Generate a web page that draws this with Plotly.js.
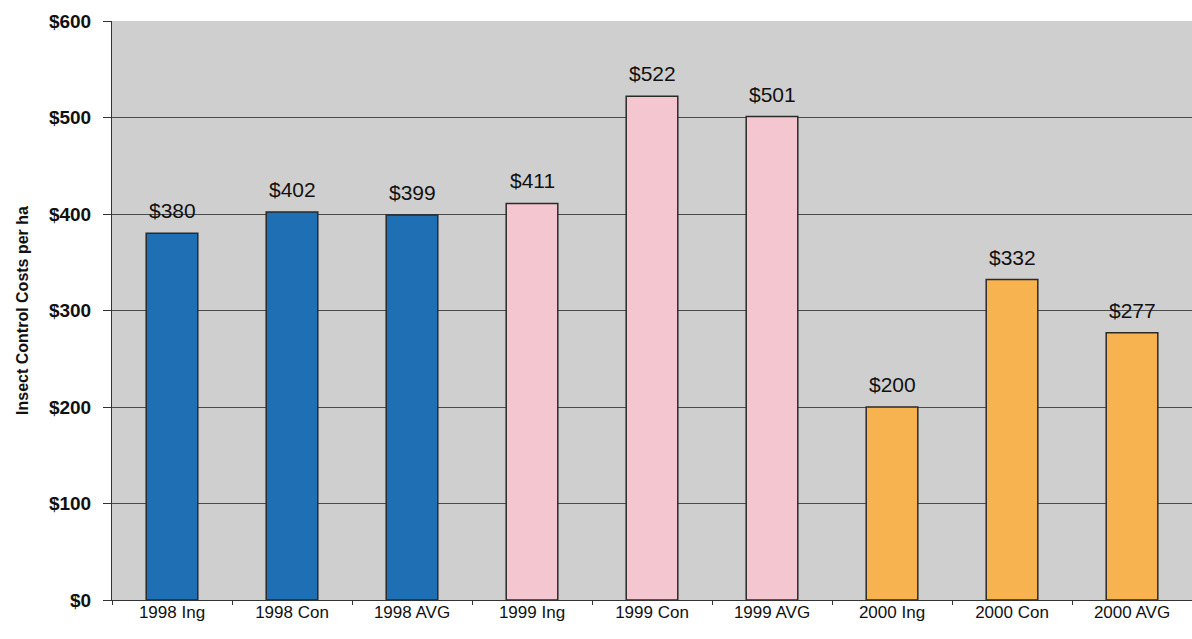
<!DOCTYPE html>
<html>
<head>
<meta charset="utf-8">
<script src="https://cdn.plot.ly/plotly-3.0.1.min.js"></script>
<style>
  html, body { margin: 0; padding: 0; background: #ffffff; }
  #chart { width: 1192px; height: 639px; }
</style>
</head>
<body>
<div id="chart"></div>
<script>
// Insect control costs per hectare, by year and program
const categories = ['1998 Ing', '1998 Con', '1998 AVG',
                    '1999 Ing', '1999 Con', '1999 AVG',
                    '2000 Ing', '2000 Con', '2000 AVG'];
const costs = [380, 402, 399, 411, 522, 501, 200, 332, 277];
const barColors = ['#1f6fb5', '#1f6fb5', '#1f6fb5',
                   '#f4c6cf', '#f4c6cf', '#f4c6cf',
                   '#f6b34f', '#f6b34f', '#f6b34f'];
const yTickVals = [0, 100, 200, 300, 400, 500, 600];
const yTickText = ['$0', '$100', '$200', '$300', '$400', '$500', '$600'];

const trace = {
  type: 'bar',
  x: categories,
  y: costs,
  width: 0.43,
  marker: {
    color: barColors,
    line: { color: '#2a2a2a', width: 1.5 }
  },
  hoverinfo: 'x+y'
};

// Value labels sitting a little above each bar
const valueLabels = categories.map((c, i) => ({
  x: c,
  y: costs[i],
  xref: 'x',
  yref: 'y',
  text: '$' + costs[i],
  showarrow: false,
  yanchor: 'bottom',
  yshift: 9,
  font: { family: 'Liberation Sans, Arial, sans-serif', size: 21, color: '#111111' }
}));

const layout = {
  width: 1192,
  height: 639,
  margin: { l: 112, r: 0, t: 21, b: 39 },
  paper_bgcolor: '#ffffff',
  plot_bgcolor: '#cfcfcf',
  showlegend: false,
  font: { family: 'Liberation Sans, Arial, sans-serif', color: '#111111' },
  annotations: valueLabels,
  xaxis: {
    type: 'category',
    tickfont: { size: 17, color: '#111111' },
    ticks: 'outside',
    ticklen: 4,
    tickcolor: '#333333',
    tickson: 'boundaries',
    ticklabelstandoff: -3,
    showline: true,
    linecolor: '#333333',
    linewidth: 1,
    showgrid: false,
    zeroline: false
  },
  yaxis: {
    range: [0, 600],
    tickvals: yTickVals,
    ticktext: yTickText,
    tickfont: { size: 19, color: '#111111', weight: 'bold' },
    ticks: 'outside',
    ticklen: 8,
    tickcolor: '#333333',
    ticklabelstandoff: 8,
    showline: true,
    linecolor: '#333333',
    linewidth: 1,
    showgrid: true,
    gridcolor: '#4a4a4a',
    gridwidth: 1,
    zeroline: false,
    title: {
      text: 'Insect Control Costs per ha',
      font: { size: 16, color: '#111111', weight: 'bold' },
      standoff: 16
    }
  }
};

Plotly.newPlot('chart', [trace], layout, { displayModeBar: false, staticPlot: true });
</script>
</body>
</html>
